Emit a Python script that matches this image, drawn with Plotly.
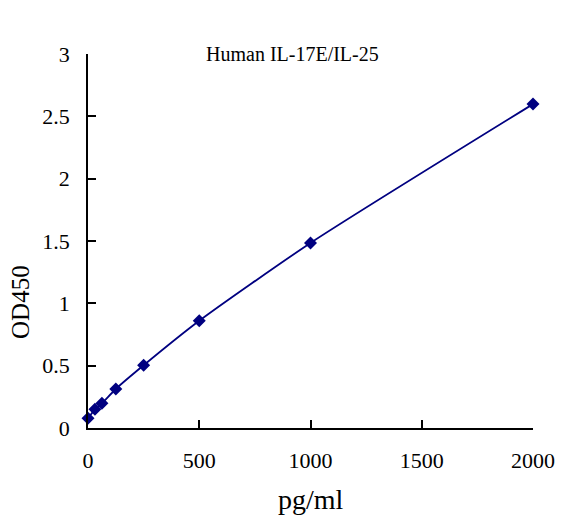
import plotly.graph_objs as go

# standard curve points
conc = [0, 31.25, 62.5, 125, 250, 500, 1000, 2000]
od450 = [0.078, 0.15, 0.198, 0.313, 0.503, 0.86, 1.484, 2.598]

xTicks = [0, 500, 1000, 1500, 2000]
yTicks = [0, 0.5, 1, 1.5, 2, 2.5, 3]
yTickText = ["0", "0.5", "1", "1.5", "2", "2.5", "3"]

navy = "#000080"
serif = "Liberation Serif, DejaVu Serif, serif"

fig = go.Figure()
fig.add_trace(go.Scatter(
    x=conc, y=od450, mode="lines+markers",
    line=dict(color=navy, width=1.8, shape="spline", smoothing=0.6),
    marker=dict(symbol="diamond", size=10, color=navy),
    cliponaxis=False, showlegend=False,
))

# page body has an 8px margin, so the margins are shifted by that
fig.update_layout(
    width=563, height=520,
    margin=dict(l=80, r=38, t=46, b=100),
    paper_bgcolor="white", plot_bgcolor="white",
    font=dict(family=serif, color="black"),
    xaxis=dict(
        range=[0, 2000], tickvals=xTicks, showgrid=False, zeroline=False,
        showline=True, linecolor="black", linewidth=1.5,
        ticks="inside", ticklen=8, tickcolor="black", tickwidth=1.5,
        tickfont=dict(size=22), ticklabelstandoff=12,
    ),
    yaxis=dict(
        range=[0, 3], tickvals=yTicks, ticktext=yTickText, showgrid=False, zeroline=False,
        showline=True, linecolor="black", linewidth=1.5,
        ticks="inside", ticklen=8, tickcolor="black", tickwidth=1.5,
        tickfont=dict(size=22), ticklabelstandoff=12,
    ),
    annotations=[
        dict(text="Human IL-17E/IL-25", xref="paper", yref="paper", x=0.459, y=0.999,
             xanchor="center", yanchor="middle", showarrow=False, font=dict(size=20)),
        dict(text="pg/ml", xref="paper", yref="paper", x=0.5, y=-0.1925,
             xanchor="center", yanchor="middle", showarrow=False, font=dict(size=28)),
        dict(text="OD450", xref="paper", yref="paper", x=-0.1506, y=0.337, textangle=-90,
             xanchor="center", yanchor="middle", showarrow=False, font=dict(size=25)),
    ],
)

fig.write_html("out.html")
